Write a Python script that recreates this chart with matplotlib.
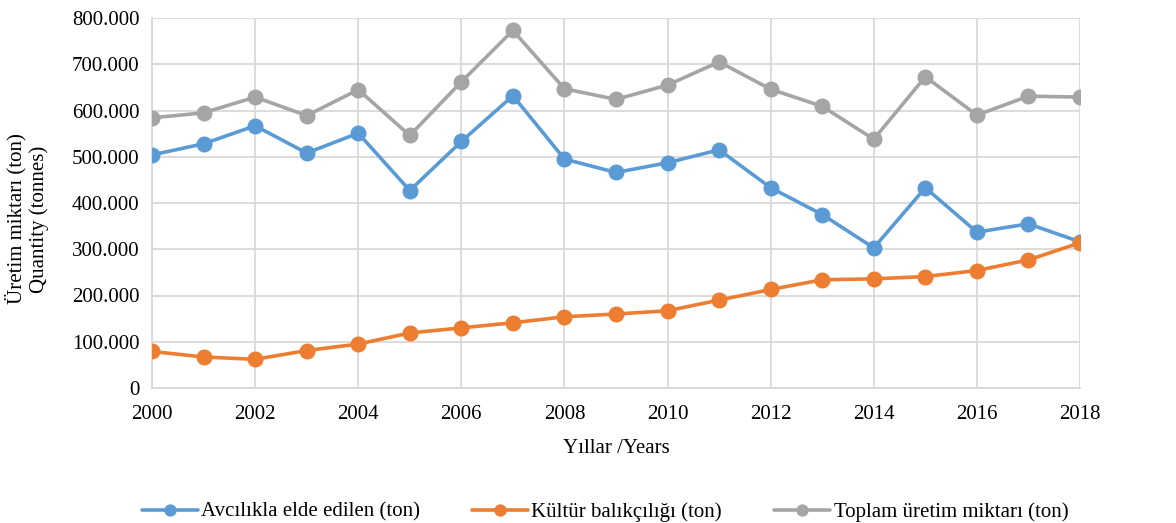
import matplotlib.pyplot as plt
from matplotlib.ticker import FuncFormatter, MultipleLocator

plt.rcParams['font.family'] = ['Liberation Serif', 'DejaVu Serif']

years = list(range(2000, 2019))
avcilik = [504, 528, 567, 508, 551, 427, 533, 632, 495, 466, 487, 515,
           433, 375, 303, 433, 337, 355, 316]
kultur = [79, 67, 62, 81, 95, 119, 130, 141, 154, 160, 167, 190,
          213, 234, 236, 241, 254, 277, 314]
toplam = [584, 595, 629, 589, 645, 546, 662, 773, 647, 624, 655, 705,
          646, 609, 538, 673, 590, 631, 629]
# ton
avcilik = [v * 1000 for v in avcilik]
kultur = [v * 1000 for v in kultur]
toplam = [v * 1000 for v in toplam]

labels = ['Avcılıkla elde edilen (ton)', 'Kültür balıkçılığı (ton)',
          'Toplam üretim miktarı (ton)']
colors = ['#5B9BD5', '#ED7D31', '#A5A5A5']

fig = plt.figure(figsize=(11.76, 5.23), dpi=100)
ax = fig.add_axes([152 / 1176, 1 - 388 / 523, (1080 - 152) / 1176, (388 - 18) / 523])

for data, lab, c in zip([avcilik, kultur, toplam], labels, colors):
    ax.plot(years, data, color=c, lw=2.6, marker='o', ms=10.5, label=lab,
            solid_capstyle='round', zorder=3)

ax.set_xlim(2000, 2018)
ax.set_ylim(0, 800000)
ax.xaxis.set_major_locator(MultipleLocator(2))
ax.yaxis.set_major_locator(MultipleLocator(100000))
ax.yaxis.set_major_formatter(FuncFormatter(
    lambda v, p: '0' if v == 0 else f'{int(v):,}'.replace(',', '.')))
ax.grid(True, color='#D9D9D9', lw=1.3)
ax.set_axisbelow(True)
for s in ['top', 'right']:
    ax.spines[s].set_visible(False)
for s in ['left', 'bottom']:
    ax.spines[s].set_color('#D9D9D9')
    ax.spines[s].set_linewidth(1.3)
ax.tick_params(length=0, labelsize=15)
ax.tick_params(axis='x', pad=12)
ax.tick_params(axis='y', pad=9)

ax.set_xlabel('Yıllar /Years', fontsize=15, labelpad=11)
ax.set_ylabel('Üretim miktarı (ton)\nQuantity (tonnes)', fontsize=15)
ax.yaxis.set_label_coords(-0.111, 0.457)

ax.legend(loc='center', bbox_to_anchor=(0.488, -0.335), ncol=3, frameon=False,
          fontsize=15, handlelength=2.7, columnspacing=2.5, handletextpad=0.15,
          markerscale=0.75)

fig.savefig('out.png', dpi=100)
